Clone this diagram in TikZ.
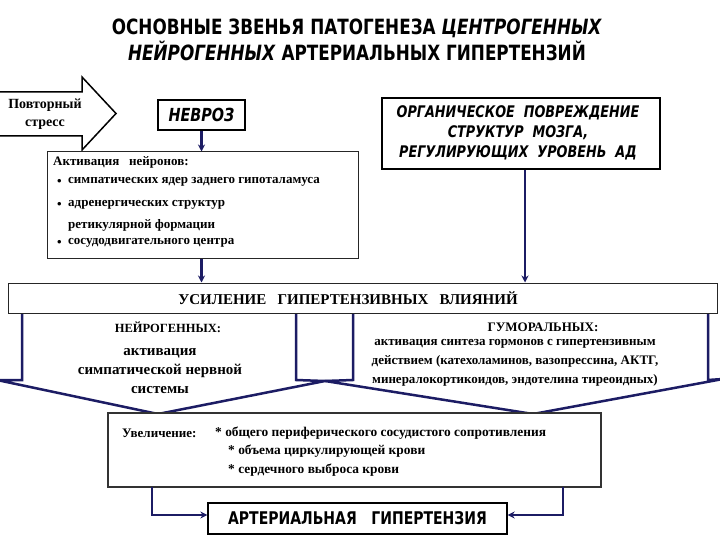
\documentclass[tikz,border=0pt]{standalone}
\usepackage{fontspec}
\usetikzlibrary{arrows.meta}
\setmainfont{Liberation Serif}
\newfontfamily\hfont[FakeStretch=0.8]{DejaVu Sans}
\definecolor{navy}{RGB}{28,28,100}
\tikzset{
  conn/.style={draw=navy, line width=2.5pt},
  arr/.style={conn, -{Stealth[length=7pt,width=7pt]}},
  wing/.style={draw=navy, line width=2.5pt, fill=white, line join=miter},
  thinbox/.style={draw=black!85, line width=1pt, fill=white, inner sep=0pt},
  thickbox/.style={draw=black, line width=2.5pt, fill=white, inner sep=0pt},
  stxt/.style={font=\bfseries\fontsize{13}{15}\selectfont, inner sep=0pt},
  ctxt/.style={font=\bfseries\fontsize{13}{19}\selectfont, inner sep=0pt, align=center},
}
\begin{document}
\begin{tikzpicture}[x=1pt,y=-1pt]
\useasboundingbox[fill=white] (0,0) rectangle (720,540);

% title
\node[font=\hfont\bfseries\fontsize{21}{26}\selectfont, align=center] (title) at (357,40)
  {ОСНОВНЫЕ ЗВЕНЬЯ ПАТОГЕНЕЗА \textit{ЦЕНТРОГЕННЫХ}\\\textit{НЕЙРОГЕННЫХ} АРТЕРИАЛЬНЫХ ГИПЕРТЕНЗИЙ};

% stress arrow
\draw[black, line width=1.5pt, fill=white, line join=miter]
  (-3,92) -- (82,92) -- (82,77) -- (116,113.5) -- (82,150) -- (82,136) -- (-3,136);
\node[font=\bfseries\fontsize{14}{18}\selectfont, align=center] (stress) at (45,114) {Повторный\\стресс};

% top boxes
\node[thickbox, minimum width=87pt, minimum height=30pt] (nevroz) at (201.5,115)
  {\hfont\bfseries\itshape\fontsize{18}{20}\selectfont НЕВРОЗ};
\node[draw=black, line width=1.8pt, fill=white, inner sep=0pt, minimum width=278pt, minimum height=71pt] (organ) at (521,133.5) {};
\node[font=\hfont\bfseries\itshape\fontsize{16}{20}\selectfont, align=center, inner sep=0pt] (organtxt) at (518,133)
  {ОРГАНИЧЕСКОЕ\ \ ПОВРЕЖДЕНИЕ\\СТРУКТУР\ \ МОЗГА,\\РЕГУЛИРУЮЩИХ\ \ УРОВЕНЬ\ \ АД};

% activation box
\node[thinbox, minimum width=311pt, minimum height=106pt] (activ) at (202.5,205) {};
\node[stxt, anchor=west] (a0) at (53,162) {Активация\ \ \ нейронов:};
\node[stxt, anchor=west] (b1) at (57,182) {•};
\node[stxt, anchor=west] (a1) at (68,182) {симпатических ядер заднего гипоталамуса};
\node[stxt, anchor=west] (b2) at (57,205) {•};
\node[stxt, anchor=west] (a2) at (68,205) {адренергических структур};
\node[stxt, anchor=west] (a3) at (68,225) {ретикулярной формации};
\node[stxt, anchor=west] (b4) at (57,243) {•};
\node[stxt, anchor=west] (a4) at (68,243) {сосудодвигательного центра};

% pentagon arrows
\draw[wing] (22,305) -- (22,380) -- (-3,380) -- (158,414) -- (325,381) -- (296,380) -- (296,305);
\draw[wing] (353,305) -- (353,380) -- (325,381) -- (533,414) -- (723,379) -- (708,380) -- (708,305);

% reinforcement box
\node[thinbox, minimum width=709pt, minimum height=30pt] (usil) at (362.5,298) {};
\node[font=\bfseries\fontsize{15}{18}\selectfont] (usiltxt) at (348,298) {УСИЛЕНИЕ\ \ \ ГИПЕРТЕНЗИВНЫХ\ \ \ ВЛИЯНИЙ};

% pentagon texts
\node[font=\bfseries\fontsize{12.5}{15}\selectfont] (neuroh) at (168,327) {НЕЙРОГЕННЫХ:};
\node[font=\bfseries\fontsize{15}{19}\selectfont, align=center] (neurot) at (160,371)
  {активация\\симпатической нервной\\системы};
\node[font=\bfseries\fontsize{13}{15}\selectfont] (humh) at (543,327) {ГУМОРАЛЬНЫХ:};
\node[ctxt] (humt) at (515,363)
  {активация синтеза гормонов с гипертензивным\\действием (катехоламинов, вазопрессина, АКТГ,\\минералокортикоидов, эндотелина тиреоидных)};

% increase box
\node[draw=black!80, line width=1.3pt, fill=white, inner sep=0pt, minimum width=493pt, minimum height=74pt] (uvel) at (354.5,450) {};
\node[stxt, anchor=west] (u0) at (122,433) {Увеличение:};
\node[stxt, anchor=west, font=\bfseries\fontsize{13.4}{15}\selectfont] (u1) at (215,433) {* общего периферического сосудистого сопротивления};
\node[stxt, anchor=west, font=\bfseries\fontsize{13.4}{15}\selectfont] (u2) at (228,451) {* объема циркулирующей крови};
\node[stxt, anchor=west, font=\bfseries\fontsize{13.4}{15}\selectfont] (u3) at (228,470) {* сердечного выброса крови};

% final box
\node[draw=black, line width=1.3pt, fill=white, inner sep=0pt, minimum width=299pt, minimum height=31pt] (ag) at (357.5,518.5)
  {\hfont\bfseries\fontsize{17.5}{20}\selectfont АРТЕРИАЛЬНАЯ\ \ \ ГИПЕРТЕНЗИЯ};

% connectors
\draw[arr] (nevroz.south) -- (activ.north -| nevroz.south);
\draw[arr] (activ.south -| nevroz.south) -- (usil.north -| nevroz.south);
\coordinate (oc) at (525,169);
\draw[arr] (organ.south -| oc) -- (usil.north -| oc);
\coordinate (lt) at (152,487);
\coordinate (lb) at (152,515);
\coordinate (rt) at (563,487);
\coordinate (rb) at (563,515);
\draw[arr] (lt) -- (lb) -- (ag.west |- lb);
\draw[arr] (rt) -- (rb) -- (ag.east |- rb);
\end{tikzpicture}
\end{document}
